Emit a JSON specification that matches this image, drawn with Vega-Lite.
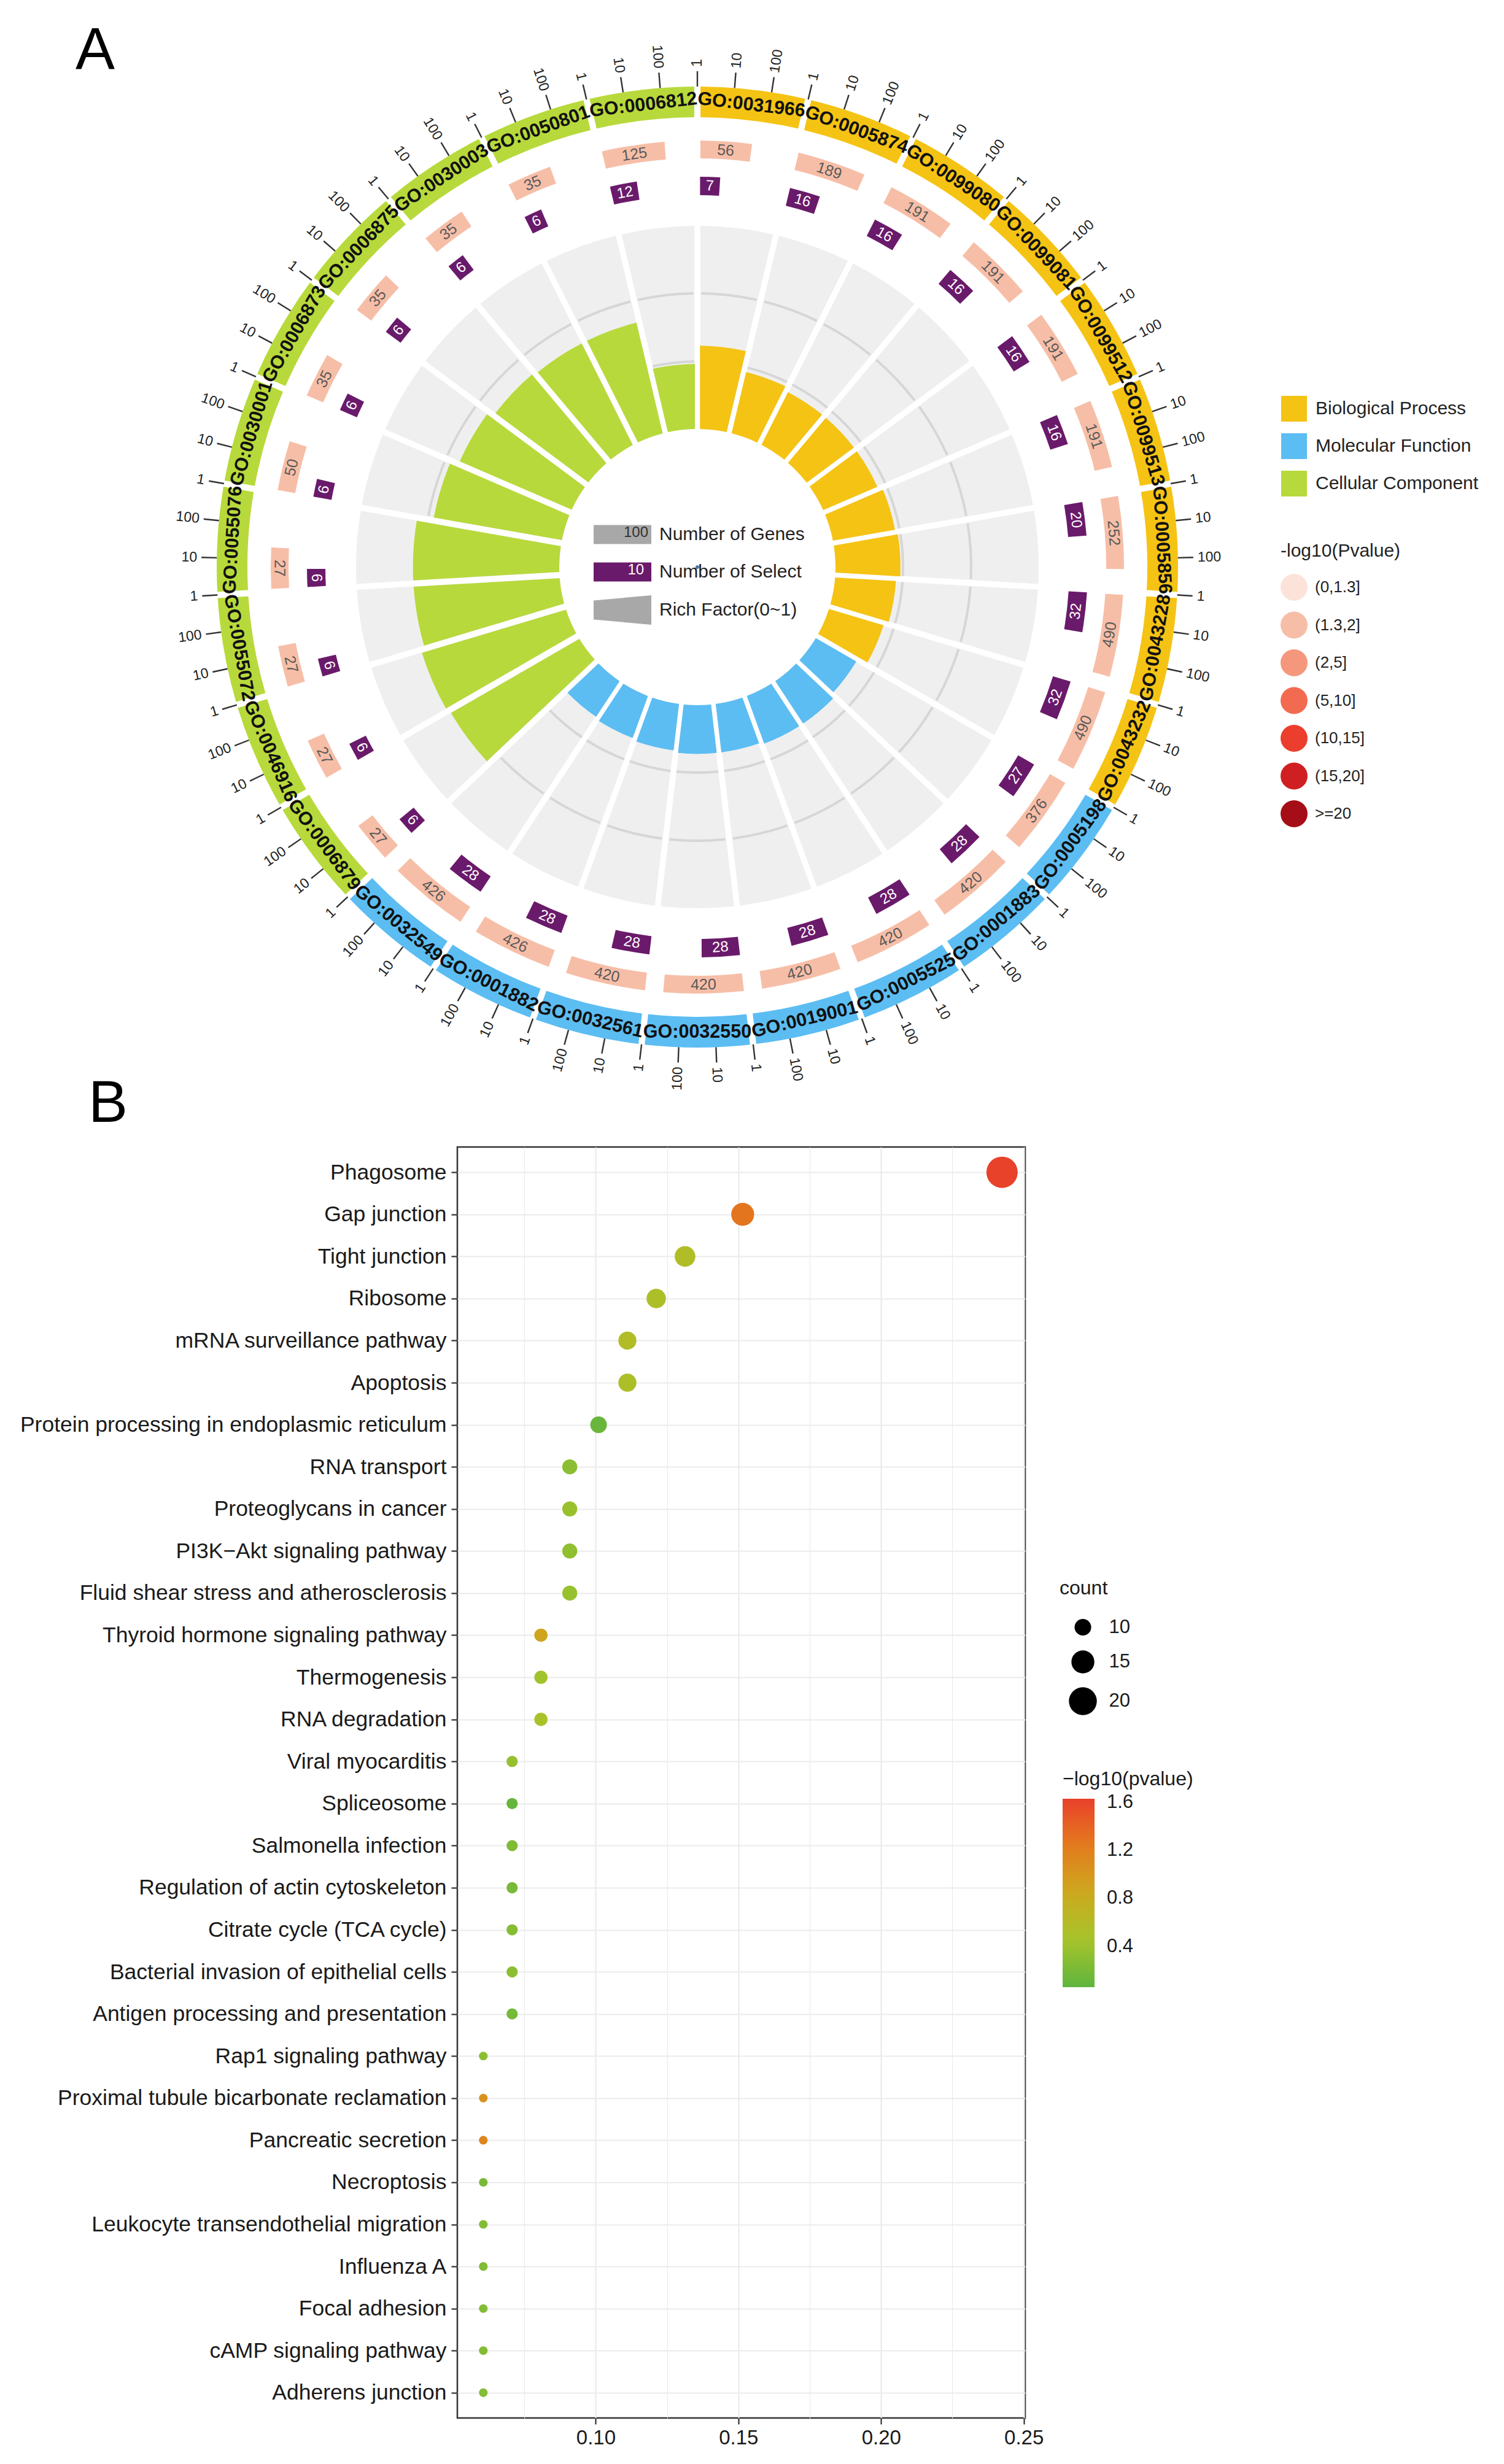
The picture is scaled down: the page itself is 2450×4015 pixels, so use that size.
{
  "$schema": "https://vega.github.io/schema/vega-lite/v6.json",
  "background": "white",
  "padding": {"left": 31, "top": 0, "right": 0, "bottom": 0},
  "bounds": "flush",
  "spacing": 21,
  "resolve": {
    "scale": {"size": "independent", "color": "independent", "fill": "independent", "shape": "independent", "opacity": "independent"},
    "legend": {"size": "independent", "color": "independent", "fill": "independent", "shape": "independent", "opacity": "independent"}
  },
  "datasets": {
    "go": [
      {"go": "GO:0031966", "cat": "Biological Process", "genes": 56, "select": 7, "rf": 0.41, "pbin": "(1.3,2]"},
      {"go": "GO:0005874", "cat": "Biological Process", "genes": 189, "select": 16, "rf": 0.31, "pbin": "(1.3,2]"},
      {"go": "GO:0099080", "cat": "Biological Process", "genes": 191, "select": 16, "rf": 0.29, "pbin": "(1.3,2]"},
      {"go": "GO:0099081", "cat": "Biological Process", "genes": 191, "select": 16, "rf": 0.29, "pbin": "(1.3,2]"},
      {"go": "GO:0099512", "cat": "Biological Process", "genes": 191, "select": 16, "rf": 0.29, "pbin": "(1.3,2]"},
      {"go": "GO:0099513", "cat": "Biological Process", "genes": 191, "select": 16, "rf": 0.31, "pbin": "(1.3,2]"},
      {"go": "GO:0005856", "cat": "Biological Process", "genes": 252, "select": 20, "rf": 0.32, "pbin": "(1.3,2]"},
      {"go": "GO:0043228", "cat": "Biological Process", "genes": 490, "select": 32, "rf": 0.30, "pbin": "(1.3,2]"},
      {"go": "GO:0043232", "cat": "Biological Process", "genes": 490, "select": 32, "rf": 0.28, "pbin": "(1.3,2]"},
      {"go": "GO:0005198", "cat": "Molecular Function", "genes": 376, "select": 27, "rf": 0.23, "pbin": "(1.3,2]"},
      {"go": "GO:0001883", "cat": "Molecular Function", "genes": 420, "select": 28, "rf": 0.25, "pbin": "(1.3,2]"},
      {"go": "GO:0005525", "cat": "Molecular Function", "genes": 420, "select": 28, "rf": 0.25, "pbin": "(1.3,2]"},
      {"go": "GO:0019001", "cat": "Molecular Function", "genes": 420, "select": 28, "rf": 0.24, "pbin": "(1.3,2]"},
      {"go": "GO:0032550", "cat": "Molecular Function", "genes": 420, "select": 28, "rf": 0.24, "pbin": "(1.3,2]"},
      {"go": "GO:0032561", "cat": "Molecular Function", "genes": 420, "select": 28, "rf": 0.23, "pbin": "(1.3,2]"},
      {"go": "GO:0001882", "cat": "Molecular Function", "genes": 426, "select": 28, "rf": 0.22, "pbin": "(1.3,2]"},
      {"go": "GO:0032549", "cat": "Molecular Function", "genes": 426, "select": 28, "rf": 0.21, "pbin": "(1.3,2]"},
      {"go": "GO:0006879", "cat": "Cellular Component", "genes": 27, "select": 6, "rf": 0.73, "pbin": "(1.3,2]"},
      {"go": "GO:0046916", "cat": "Cellular Component", "genes": 27, "select": 6, "rf": 0.74, "pbin": "(1.3,2]"},
      {"go": "GO:0055072", "cat": "Cellular Component", "genes": 27, "select": 6, "rf": 0.72, "pbin": "(1.3,2]"},
      {"go": "GO:0055076", "cat": "Cellular Component", "genes": 27, "select": 6, "rf": 0.72, "pbin": "(1.3,2]"},
      {"go": "GO:0030001", "cat": "Cellular Component", "genes": 50, "select": 6, "rf": 0.64, "pbin": "(1.3,2]"},
      {"go": "GO:0006873", "cat": "Cellular Component", "genes": 35, "select": 6, "rf": 0.60, "pbin": "(1.3,2]"},
      {"go": "GO:0006875", "cat": "Cellular Component", "genes": 35, "select": 6, "rf": 0.57, "pbin": "(1.3,2]"},
      {"go": "GO:0030003", "cat": "Cellular Component", "genes": 35, "select": 6, "rf": 0.56, "pbin": "(1.3,2]"},
      {"go": "GO:0050801", "cat": "Cellular Component", "genes": 35, "select": 6, "rf": 0.56, "pbin": "(1.3,2]"},
      {"go": "GO:0006812", "cat": "Cellular Component", "genes": 125, "select": 12, "rf": 0.32, "pbin": "(1.3,2]"}
    ],
    "kegg": [
      {"pathway": "Phagosome", "ratio": 0.2424, "count": 24, "logp": 1.62},
      {"pathway": "Gap junction", "ratio": 0.1515, "count": 15, "logp": 1.28},
      {"pathway": "Tight junction", "ratio": 0.1313, "count": 13, "logp": 0.55},
      {"pathway": "Ribosome", "ratio": 0.1212, "count": 12, "logp": 0.52},
      {"pathway": "mRNA surveillance pathway", "ratio": 0.1111, "count": 11, "logp": 0.55},
      {"pathway": "Apoptosis", "ratio": 0.1111, "count": 11, "logp": 0.52},
      {"pathway": "Protein processing in endoplasmic reticulum", "ratio": 0.1010, "count": 10, "logp": 0.12},
      {"pathway": "RNA transport", "ratio": 0.0909, "count": 9, "logp": 0.30},
      {"pathway": "Proteoglycans in cancer", "ratio": 0.0909, "count": 9, "logp": 0.38},
      {"pathway": "PI3K−Akt signaling pathway", "ratio": 0.0909, "count": 9, "logp": 0.33},
      {"pathway": "Fluid shear stress and atherosclerosis", "ratio": 0.0909, "count": 9, "logp": 0.37},
      {"pathway": "Thyroid hormone signaling pathway", "ratio": 0.0808, "count": 8, "logp": 0.88},
      {"pathway": "Thermogenesis", "ratio": 0.0808, "count": 8, "logp": 0.42},
      {"pathway": "RNA degradation", "ratio": 0.0808, "count": 8, "logp": 0.47},
      {"pathway": "Viral myocarditis", "ratio": 0.0707, "count": 7, "logp": 0.36},
      {"pathway": "Spliceosome", "ratio": 0.0707, "count": 7, "logp": 0.10},
      {"pathway": "Salmonella infection", "ratio": 0.0707, "count": 7, "logp": 0.24},
      {"pathway": "Regulation of actin cytoskeleton", "ratio": 0.0707, "count": 7, "logp": 0.20},
      {"pathway": "Citrate cycle (TCA cycle)", "ratio": 0.0707, "count": 7, "logp": 0.28},
      {"pathway": "Bacterial invasion of epithelial cells", "ratio": 0.0707, "count": 7, "logp": 0.30},
      {"pathway": "Antigen processing and presentation", "ratio": 0.0707, "count": 7, "logp": 0.18},
      {"pathway": "Rap1 signaling pathway", "ratio": 0.0606, "count": 6, "logp": 0.30},
      {"pathway": "Proximal tubule bicarbonate reclamation", "ratio": 0.0606, "count": 6, "logp": 1.05},
      {"pathway": "Pancreatic secretion", "ratio": 0.0606, "count": 6, "logp": 1.15},
      {"pathway": "Necroptosis", "ratio": 0.0606, "count": 6, "logp": 0.20},
      {"pathway": "Leukocyte transendothelial migration", "ratio": 0.0606, "count": 6, "logp": 0.26},
      {"pathway": "Influenza A", "ratio": 0.0606, "count": 6, "logp": 0.25},
      {"pathway": "Focal adhesion", "ratio": 0.0606, "count": 6, "logp": 0.25},
      {"pathway": "cAMP signaling pathway", "ratio": 0.0606, "count": 6, "logp": 0.26},
      {"pathway": "Adherens junction", "ratio": 0.0606, "count": 6, "logp": 0.27}
    ],
    "centerkeys": [{"key": "Number of Genes"}, {"key": "Number of Select"}, {"key": "Rich Factor(0~1)"}],
    "numgenes": [{"ng": "100"}],
    "numselect": [{"ns": "10"}]
  },
  "vconcat": [
    {
      "width": 782,
      "height": 1848,
      "title": {"text": "A", "anchor": "start", "frame": "group", "fontSize": 96, "fontWeight": "normal", "color": "#000000", "offset": 0, "baseline": "alphabetic", "dx": -622, "dy": 208},
      "data": {"name": "go"},
      "transform": [
        {"window": [{"op": "row_number", "as": "rn"}]},
        {"calculate": "datum.rn - 1", "as": "idx"},
        {"calculate": "datum.idx + 1", "as": "t1"},
        {"calculate": "datum.idx + 0.5", "as": "tm"},
        {"calculate": "datum.idx + log(datum.genes) / LN10 / 3", "as": "tg"},
        {"calculate": "datum.idx + log(datum.select) / LN10 / 3", "as": "ts"},
        {"calculate": "(datum.idx + datum.tg) / 2", "as": "tgm"},
        {"calculate": "(datum.idx + datum.ts) / 2", "as": "tsm"},
        {"calculate": "datum.tm * 360 / 27", "as": "dm"},
        {"calculate": "datum.tgm * 360 / 27", "as": "dg"},
        {"calculate": "datum.tsm * 360 / 27", "as": "dsel"},
        {"calculate": "datum.dm > 90 && datum.dm < 270 ? datum.dm - 180 : datum.dm", "as": "am"},
        {"calculate": "datum.dg > 90 && datum.dg < 270 ? datum.dg - 180 : datum.dg", "as": "ag"},
        {"calculate": "datum.dsel > 90 && datum.dsel < 270 ? datum.dsel - 180 : datum.dsel", "as": "asel"}
      ],
      "layer": [
        {
          "mark": {"type": "arc", "padAngle": 0.016, "color": "#EFEFEF"},
          "encoding": {
            "theta": {"field": "idx", "type": "quantitative", "scale": {"type": "linear", "domain": [0, 27], "range": [0, 6.283185307179586]}, "stack": null},
            "theta2": {"field": "t1"},
            "radius": {"value": 556},
            "radius2": {"value": 225}
          }
        },
        {
          "mark": {"type": "arc", "padAngle": 0.02, "color": "#D6D6D6"},
          "encoding": {
            "theta": {"field": "idx", "type": "quantitative", "stack": null},
            "theta2": {"field": "t1"},
            "radius": {"value": 337},
            "radius2": {"value": 333}
          }
        },
        {
          "mark": {"type": "arc", "padAngle": 0.02, "color": "#D6D6D6"},
          "encoding": {
            "theta": {"field": "idx", "type": "quantitative", "stack": null},
            "theta2": {"field": "t1"},
            "radius": {"value": 448},
            "radius2": {"value": 444}
          }
        },
        {
          "mark": {"type": "arc", "padAngle": 0.02},
          "encoding": {
            "theta": {"field": "idx", "type": "quantitative", "stack": null},
            "theta2": {"field": "t1"},
            "radius": {"field": "rf", "type": "quantitative", "scale": {"type": "linear", "domain": [0, 1], "range": [225, 556], "zero": false}},
            "radius2": {"value": 225},
            "color": {
              "field": "cat", "type": "nominal",
              "scale": {"domain": ["Biological Process", "Molecular Function", "Cellular Component"], "range": ["#F5C314", "#5CBDF2", "#B8D93B"]},
              "legend": {"title": null, "orient": "none", "legendX": 1342, "legendY": 645, "symbolType": "square", "symbolSize": 1764, "symbolStrokeWidth": 0, "labelFontSize": 30, "labelOffset": 14, "rowPadding": 19, "labelColor": "#222222", "labelLimit": 1000, "padding": 0}
            }
          }
        },
        {
          "mark": {"type": "arc", "padAngle": 0.01},
          "encoding": {
            "theta": {"field": "idx", "type": "quantitative", "stack": null},
            "theta2": {"field": "tg"},
            "radius": {"value": 695},
            "radius2": {"value": 666},
            "fill": {
              "field": "pbin", "type": "nominal",
              "scale": {"domain": ["(0,1.3]", "(1.3,2]", "(2,5]", "(5,10]", "(10,15]", "(15,20]", ">=20"], "range": ["#FCE3D9", "#F7BEA7", "#F4977C", "#F26B50", "#EC3E2D", "#CF1F22", "#A50D17"]},
              "legend": {"title": "-log10(Pvalue)", "orient": "none", "legendX": 1341, "legendY": 883, "symbolType": "circle", "symbolSize": 1936, "symbolStrokeWidth": 0, "labelFontSize": 26, "labelOffset": 12, "rowPadding": 17.5, "titleFontSize": 30, "titleFontWeight": "normal", "titlePadding": 22, "titleColor": "#222222", "titleLimit": 1000, "labelColor": "#222222", "labelLimit": 1000, "padding": 0}
            }
          }
        },
        {
          "mark": {"type": "text", "fontSize": 25, "color": "#5A5A5A", "align": "center", "baseline": "middle"},
          "encoding": {
            "theta": {"field": "tgm", "type": "quantitative", "stack": null},
            "radius": {"value": 680.5},
            "text": {"field": "genes", "type": "quantitative"},
            "angle": {"field": "ag", "type": "quantitative", "scale": null}
          }
        },
        {
          "mark": {"type": "arc", "padAngle": 0.01, "color": "#6A1A6A"},
          "encoding": {
            "theta": {"field": "idx", "type": "quantitative", "stack": null},
            "theta2": {"field": "ts"},
            "radius": {"value": 636},
            "radius2": {"value": 606}
          }
        },
        {
          "mark": {"type": "text", "fontSize": 24, "color": "#FFFFFF", "align": "center", "baseline": "middle"},
          "encoding": {
            "theta": {"field": "tsm", "type": "quantitative", "stack": null},
            "radius": {"value": 621},
            "text": {"field": "select", "type": "quantitative"},
            "angle": {"field": "asel", "type": "quantitative", "scale": null}
          }
        },
        {
          "mark": {"type": "arc", "padAngle": 0.0095},
          "encoding": {
            "theta": {"field": "idx", "type": "quantitative", "stack": null},
            "theta2": {"field": "t1"},
            "radius": {"value": 783},
            "radius2": {"value": 733},
            "color": {
              "field": "cat", "type": "nominal",
              "scale": {"domain": ["Biological Process", "Molecular Function", "Cellular Component"], "range": ["#F5C314", "#5CBDF2", "#B8D93B"]},
              "legend": {"title": null, "orient": "none", "legendX": 1342, "legendY": 645, "symbolType": "square", "symbolSize": 1764, "symbolStrokeWidth": 0, "labelFontSize": 30, "labelOffset": 14, "rowPadding": 19, "labelColor": "#222222", "labelLimit": 1000, "padding": 0}
            }
          }
        },
        {
          "mark": {"type": "text", "fontSize": 30.5, "fontWeight": "bold", "color": "#111111", "align": "center", "baseline": "middle"},
          "encoding": {
            "theta": {"field": "tm", "type": "quantitative", "stack": null},
            "radius": {"value": 758},
            "text": {"field": "go", "type": "nominal"},
            "angle": {"field": "am", "type": "quantitative", "scale": null}
          }
        },
        {
          "transform": [
            {"calculate": "[1, 10, 100]", "as": "tk"},
            {"flatten": ["tk"]},
            {"calculate": "datum.idx + log(datum.tk) / LN10 / 3", "as": "tt"},
            {"calculate": "datum.tt - 0.0065", "as": "tta"},
            {"calculate": "datum.tt + 0.0065", "as": "ttb"},
            {"calculate": "datum.tt * 360 / 27", "as": "dt"},
            {"calculate": "datum.dt < 180 ? datum.dt - 90 : datum.dt - 270", "as": "at"}
          ],
          "layer": [
            {
              "mark": {"type": "arc", "color": "#333333"},
              "encoding": {
                "theta": {"field": "tta", "type": "quantitative", "stack": null},
                "theta2": {"field": "ttb"},
                "radius": {"value": 808},
                "radius2": {"value": 783}
              }
            },
            {
              "transform": [{"filter": "datum.dt < 180"}],
              "mark": {"type": "text", "fontSize": 23, "color": "#222222", "align": "left", "baseline": "middle"},
              "encoding": {
                "theta": {"field": "tt", "type": "quantitative", "stack": null},
                "radius": {"value": 815},
                "text": {"field": "tk", "type": "nominal"},
                "angle": {"field": "at", "type": "quantitative", "scale": null}
              }
            },
            {
              "transform": [{"filter": "datum.dt >= 180"}],
              "mark": {"type": "text", "fontSize": 23, "color": "#222222", "align": "right", "baseline": "middle"},
              "encoding": {
                "theta": {"field": "tt", "type": "quantitative", "stack": null},
                "radius": {"value": 815},
                "text": {"field": "tk", "type": "nominal"},
                "angle": {"field": "at", "type": "quantitative", "scale": null}
              }
            }
          ]
        },
        {
          "data": {"name": "centerkeys"},
          "mark": {"type": "point", "filled": true, "opacity": 0},
          "encoding": {
            "shape": {
              "field": "key", "type": "nominal",
              "scale": {"domain": ["Number of Genes", "Number of Select", "Rich Factor(0~1)"], "range": ["M-2,-0.66H2V0.66H-2Z", "M-2,-0.66H2V0.66H-2Z", "M-2,-0.66L2,-1.02V1.02L-2,0.66Z"]},
              "legend": {"title": null, "orient": "none", "legendX": 245.5, "legendY": 847.5, "zindex": 0, "symbolSize": 2209, "symbolStrokeWidth": 0, "symbolOpacity": 1, "symbolFillColor": "#A8A8A8", "labelFontSize": 30, "labelOffset": 36.5, "rowPadding": 21, "labelColor": "#222222", "labelLimit": 1000, "padding": 0}
            },
            "fill": {
              "field": "key", "type": "nominal",
              "scale": {"domain": ["Number of Genes", "Number of Select", "Rich Factor(0~1)"], "range": ["#A8A8A8", "#6A1A6A", "#A8A8A8"]},
              "legend": {"title": null, "orient": "none", "legendX": 245.5, "legendY": 847.5, "zindex": 0, "symbolSize": 2209, "symbolStrokeWidth": 0, "symbolOpacity": 1, "symbolFillColor": "#A8A8A8", "labelFontSize": 30, "labelOffset": 36.5, "rowPadding": 21, "labelColor": "#222222", "labelLimit": 1000, "padding": 0}
            }
          }
        },
        {
          "data": {"name": "numgenes"},
          "mark": {"type": "point", "filled": true},
          "encoding": {
            "opacity": {
              "field": "ng", "type": "nominal",
              "scale": {"domain": ["100"], "range": [0]},
              "legend": {"title": null, "orient": "none", "legendX": 247, "legendY": 856, "zindex": 2, "symbolSize": 1, "symbolOpacity": 0, "symbolStrokeWidth": 0, "labelFontSize": 24, "labelOffset": 0, "labelColor": "#333333", "padding": 0}
            }
          }
        },
        {
          "data": {"name": "numselect"},
          "mark": {"type": "point", "filled": true},
          "encoding": {
            "opacity": {
              "field": "ns", "type": "nominal",
              "scale": {"domain": ["10"], "range": [0]},
              "legend": {"title": null, "orient": "none", "legendX": 253.5, "legendY": 917, "zindex": 2, "symbolSize": 1, "symbolOpacity": 0, "symbolStrokeWidth": 0, "labelFontSize": 24, "labelOffset": 0, "labelColor": "#FFFFFF", "padding": 0}
            }
          }
        }
      ],
      "resolve": {"scale": {"fill": "independent", "shape": "independent", "opacity": "independent"}}
    },
    {
      "width": 925,
      "height": 2071,
      "view": {"stroke": "#333333", "strokeWidth": 2.5},
      "title": {"text": "B", "anchor": "start", "frame": "group", "fontSize": 96, "fontWeight": "normal", "color": "#000000", "offset": 0, "baseline": "alphabetic", "dx": -601, "dy": 55},
      "data": {"name": "kegg"},
      "mark": {"type": "circle", "opacity": 1},
      "encoding": {
        "y": {
          "field": "pathway", "type": "nominal", "sort": null,
          "scale": {"type": "point", "padding": 0.6},
          "axis": {"title": null, "grid": true, "gridColor": "#EBEBEB", "gridWidth": 2.2, "domain": false, "labelFontSize": 35.5, "labelColor": "#1A1A1A", "labelLimit": 1000, "labelPadding": 8, "tickSize": 10, "tickWidth": 2.2, "tickColor": "#333333"}
        },
        "x": {
          "field": "ratio", "type": "quantitative",
          "scale": {"domain": [0.0515, 0.2505], "nice": false, "zero": false},
          "axis": {
            "title": null,
            "values": [0.075, 0.1, 0.125, 0.15, 0.175, 0.2, 0.225, 0.25],
            "labelExpr": "round(datum.value * 1000) % 50 == 0 ? format(datum.value, '.2f') : ''",
            "grid": true, "gridColor": "#EBEBEB",
            "gridWidth": {"condition": {"test": "round(datum.value * 1000) % 50 != 0", "value": 1.2}, "value": 2.2},
            "tickOpacity": {"condition": {"test": "round(datum.value * 1000) % 50 != 0", "value": 0}, "value": 1},
            "domain": false, "labelFontSize": 33, "labelColor": "#1A1A1A", "labelPadding": 6, "labelFlush": false, "labelOverlap": false,
            "tickSize": 10, "tickWidth": 2.2, "tickColor": "#333333"
          }
        },
        "size": {
          "field": "count", "type": "quantitative",
          "scale": {"domain": [6, 24], "range": [200, 2600]},
          "legend": {"title": "count", "orient": "none", "legendX": 981, "legendY": 704, "values": [10, 15, 20], "symbolType": "circle", "symbolFillColor": "#000000", "symbolStrokeWidth": 0, "symbolOpacity": 1, "symbolOffset": 15, "titleFontSize": 32, "titleFontWeight": "normal", "titlePadding": 31, "titleColor": "#1A1A1A", "titleLimit": 1000, "labelFontSize": 31, "labelColor": "#1A1A1A", "labelOffset": 19.5, "rowPadding": 22, "padding": 0}
        },
        "color": {
          "field": "logp", "type": "quantitative",
          "scale": {"domain": [0.06, 0.45, 0.85, 1.25, 1.63], "range": ["#5FB43F", "#A6C42A", "#CDA81E", "#E47A1E", "#E8402A"], "interpolate": "rgb"},
          "legend": {"title": "−log10(pvalue)", "orient": "none", "legendX": 986, "legendY": 1015, "values": [0.4, 0.8, 1.2, 1.6], "direction": "vertical", "gradientLength": 307, "gradientThickness": 52, "gradientStrokeWidth": 0, "titleFontSize": 32, "titleFontWeight": "normal", "titlePadding": 15, "titleColor": "#1A1A1A", "titleLimit": 1000, "labelFontSize": 31, "labelColor": "#1A1A1A", "labelOffset": 20, "labelOverlap": false, "padding": 0}
        }
      }
    }
  ],
  "config": {
    "font": "Liberation Sans",
    "view": {"stroke": null},
    "legend": {"symbolBaseFillColor": "#000000", "symbolBaseStrokeColor": "#000000"}
  }
}
